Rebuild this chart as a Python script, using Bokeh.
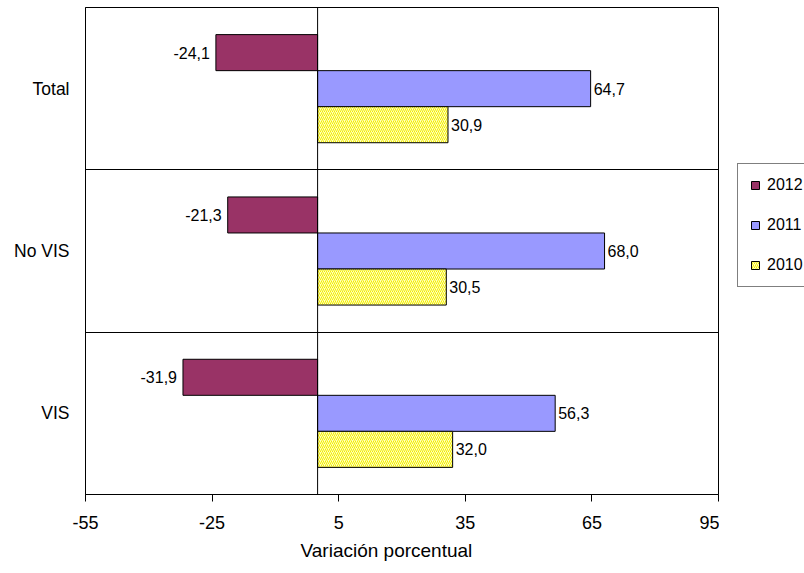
from bokeh.plotting import figure
from bokeh.models import ColumnDataSource, FixedTicker, Span, Legend, LegendItem, Title
from bokeh.layouts import row
from bokeh.core.properties import value
from bokeh.embed import file_html
from bokeh.resources import INLINE

categories = ["VIS", "No VIS", "Total"]          # bottom to top
years = ["2012", "2011", "2010"]                 # top to bottom within a group
v2012 = [-31.9, -21.3, -24.1]
v2011 = [56.3, 68.0, 64.7]
v2010 = [32.0, 30.5, 30.9]
x_ticks = [-55, -25, 5, 35, 65, 95]
x_title = "Variación porcentual"

FONT = "Liberation Sans"
colors = {"2012": "#993366", "2011": "#9999FF", "2010": "#FFFFC0"}
offsets = {"2012": 0.222, "2011": 0.0, "2010": -0.222}
series = {"2012": v2012, "2011": v2011, "2010": v2010}
HATCH = dict(hatch_pattern="/", hatch_color="#F2EC00", hatch_scale=4, hatch_weight=1)

p = figure(width=719, height=573, x_range=(-55, 95), y_range=(0, 3),
           output_backend="svg", toolbar_location=None,
           min_border_left=85, min_border_right=1, min_border_top=7,
           min_border_bottom=79)
p.outline_line_color = "black"
p.outline_line_width = 1
p.background_fill_color = "white"
p.border_fill_color = "white"

for yr in years:
    vals = series[yr]
    ys = [i + 0.5 + offsets[yr] for i in range(len(categories))]
    labels = [f"{v:.1f}".replace(".", ",") for v in vals]
    src = ColumnDataSource(dict(y=ys, right=vals))
    kw = dict(y="y", left=0, right="right", height=0.222, source=src,
              fill_color=colors[yr], line_color="black", line_width=1)
    if yr == "2010":
        kw.update(HATCH)
    p.hbar(**kw)
    neg = [v < 0 for v in vals]
    src_neg = ColumnDataSource(dict(x=[v for v, n in zip(vals, neg) if n],
                                    y=[y for y, n in zip(ys, neg) if n],
                                    t=[l for l, n in zip(labels, neg) if n]))
    src_pos = ColumnDataSource(dict(x=[v for v, n in zip(vals, neg) if not n],
                                    y=[y for y, n in zip(ys, neg) if not n],
                                    t=[l for l, n in zip(labels, neg) if not n]))
    p.text(x="x", y="y", text="t", source=src_neg, text_align="right",
           text_baseline="middle", x_offset=-6, text_font=value(FONT),
           text_font_size="16px", text_color="black")
    p.text(x="x", y="y", text="t", source=src_pos, text_align="left",
           text_baseline="middle", x_offset=3, text_font=value(FONT),
           text_font_size="16px", text_color="black")

p.add_layout(Span(location=0, dimension="height", line_color="black", line_width=1))

# axes
p.xaxis.ticker = FixedTicker(ticks=x_ticks)
p.xaxis.major_label_overrides = {t: str(t) for t in x_ticks}
p.xaxis.minor_tick_line_color = None
p.xaxis.major_tick_out = 7
p.xaxis.major_tick_in = 0
p.xaxis.axis_line_color = "black"
p.xaxis.major_tick_line_color = "black"
p.xaxis.major_label_text_font = FONT
p.xaxis.major_label_text_font_size = "18px"
p.xaxis.major_label_text_color = "black"
p.xaxis.major_label_standoff = 14

# axis title placed below the axis (slightly left of the frame centre)
p.add_layout(Title(text=x_title, align="left", offset=215, standoff=13,
                   text_font=FONT, text_font_size="19px",
                   text_font_style="normal", text_color="black"), "below")

p.yaxis.ticker = FixedTicker(ticks=[i + 0.5 for i in range(len(categories))])
p.yaxis.major_label_overrides = {i + 0.5: c for i, c in enumerate(categories)}
p.yaxis.minor_tick_line_color = None
p.yaxis.major_tick_out = 0
p.yaxis.major_tick_in = 0
p.yaxis.axis_line_color = "black"
p.yaxis.major_label_text_font = FONT
p.yaxis.major_label_text_font_size = "17.5px"
p.yaxis.major_label_text_color = "black"
p.yaxis.major_label_standoff = 16

p.xgrid.grid_line_color = None
p.ygrid.ticker = FixedTicker(ticks=[1, 2])
p.ygrid.grid_line_color = "black"
p.ygrid.grid_line_alpha = 1.0

# legend panel (separate narrow figure at the right)
lf = figure(width=85, height=573, x_range=(0, 1), y_range=(0, 1),
            output_backend="svg", toolbar_location=None,
            x_axis_location=None, y_axis_location=None,
            min_border_left=0, min_border_right=0, min_border_top=0,
            min_border_bottom=0)
lf.outline_line_color = None
lf.grid.visible = False
lf.border_fill_color = "white"
lf.background_fill_color = "white"

items = []
for yr in years:
    # legend proxies: a small bar hidden underneath the opaque legend box
    kw = dict(y=[0.55], left=[0.5], right=[0.6], height=0.02,
              fill_color=colors[yr], line_color="black", line_width=1)
    if yr == "2010":
        kw.update(HATCH)
    r = lf.hbar(**kw)
    items.append(LegendItem(label=yr, renderers=[r]))

legend = Legend(items=items, location=(18, 207), orientation="vertical",
                glyph_width=10, glyph_height=10, label_height=16,
                spacing=22, padding=12, margin=0, label_standoff=7,
                border_line_color="black", border_line_width=1,
                background_fill_color="white", background_fill_alpha=1,
                label_text_font=FONT, label_text_font_size="16px",
                label_text_color="black")
lf.add_layout(legend, "center")

layout = row(p, lf, spacing=0)
open("out.html", "w").write(file_html(layout, INLINE))
